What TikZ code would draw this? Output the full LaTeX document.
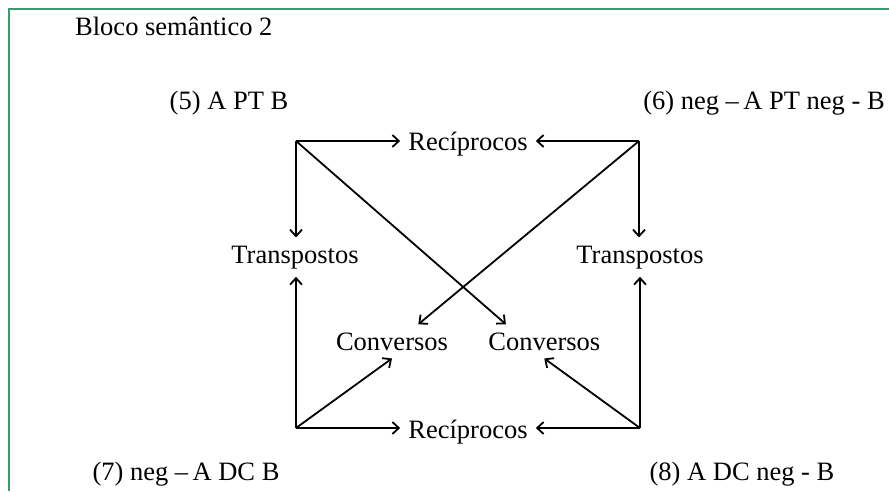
\documentclass[tikz,border=0pt]{standalone}
\usepackage{fontspec}
\setmainfont{Liberation Serif}
\usetikzlibrary{positioning,arrows.meta}
\definecolor{framegreen}{RGB}{52,158,108}

\begin{document}
\begin{tikzpicture}[x=1pt, y=1pt,
	term/.style = { font=\fontsize{26.5}{31}\selectfont, inner sep=8pt },
	link/.style = { line width=1.8pt, -{Straight Barb[length=6.5pt,width=12pt]} }]

  \useasboundingbox (0,0) rectangle (889,491);
  \draw[framegreen, line width=2pt] (9,0) -- (9,482) -- (889,482);

  \node[name=title, term, anchor=base west] at (67,455) {Bloco semântico 2};

  \node[name=p5, term, anchor=base] at (229,381) {(5) A PT B};
  \node[name=p6, term, anchor=base] at (764,381) {(6) neg –\,A PT neg - B};
  \node[name=p7, term, anchor=base] at (186,11) {(7) neg –\,A DC B};
  \node[name=p8, term, anchor=base] at (742,11) {(8) A DC neg - B};

  \node[name=recT, term, anchor=base] at (468,340) {Recíprocos};
  \node[name=recB, term, anchor=base] at (468,53) {Recíprocos};
  \node[name=transL, term, anchor=base] at (295,228) {Transpostos};
  \node[name=transR, term, anchor=base] at (640,228) {Transpostos};
  \node[name=convL, term, anchor=base] at (392,141) {Conversos};
  \node[name=convR, term, right=24pt of convL] {Conversos};

  \coordinate (c5) at (296,350);
  \coordinate (c6) at (639,350);
  \coordinate (c7) at (296,63);
  \coordinate (c8) at (640,63);

  \draw[link] (c5) -- (c5 -| recT.west);
  \draw[link] (c5) -- (c5 |- transL.north);
  \draw[link] (c5) -- (convR.156);
  \draw[link] (c6) -- (c6 -| recT.east);
  \draw[link] (c6) -- (c6 |- transR.north);
  \draw[link] (c6) -- (convL.33);
  \draw[link] (c7) -- (c7 -| recB.west);
  \draw[link] (c7) -- (c7 |- transL.south);
  \draw[link] (c7) -- (convL.south);
  \draw[link] (c8) -- (c8 -| recB.east);
  \draw[link] (c8) -- (c8 |- transR.south);
  \draw[link] (c8) -- (convR.south);
\end{tikzpicture}
\end{document}
